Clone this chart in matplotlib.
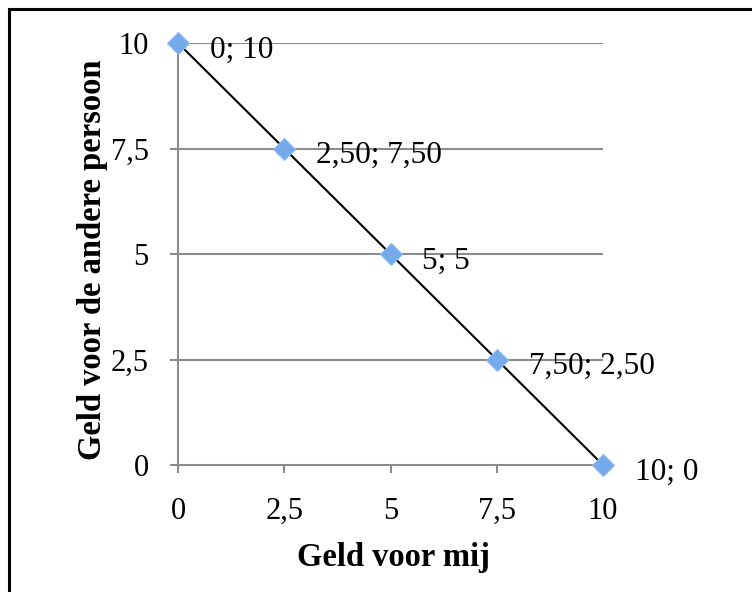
import matplotlib
matplotlib.use("Agg")
import matplotlib.pyplot as plt
from matplotlib.lines import Line2D

plt.rcParams['font.family'] = ['Liberation Serif', 'DejaVu Serif']

geld_mij = [0, 2.5, 5, 7.5, 10]
geld_ander = [10, 7.5, 5, 2.5, 0]
punt_labels = ["0; 10", "2,50; 7,50", "5; 5", "7,50; 2,50", "10; 0"]
x_ticks = [0, 2.5, 5, 7.5, 10]
x_ticklabels = ["0", "2,5", "5", "7,5", "10"]
y_ticks = [0, 2.5, 5, 7.5, 10]
y_ticklabels = ["0", "2,5", "5", "7,5", "10"]

W, H = 752, 592
fig = plt.figure(figsize=(W / 100, H / 100), dpi=100)
ax = fig.add_axes([178 / W, 1 - 465 / H, 425 / W, 422 / H])

grey = "#8c8c8c"
for y in y_ticks[1:]:
    ax.axhline(y, color=grey, lw=1.5, zorder=1)

ax.plot(geld_mij, geld_ander, color="black", lw=1.5, zorder=2)
ax.plot(geld_mij, geld_ander, linestyle="none", marker="D", markersize=11,
        markerfacecolor="#74a9ea", markeredgecolor="#8fbaf0", markeredgewidth=0.8,
        zorder=3, clip_on=False)

for x, y, t in zip(geld_mij, geld_ander, punt_labels):
    ax.annotate(t, (x, y), xytext=(23, -10.5), textcoords="offset points",
                ha="left", va="baseline", fontsize=22.5, zorder=4,
                annotation_clip=False)

ax.set_xlim(0, 10)
ax.set_ylim(0, 10)
ax.set_xticks(x_ticks)
ax.set_xticklabels(x_ticklabels)
ax.set_yticks(y_ticks)
ax.set_yticklabels(y_ticklabels)
ax.tick_params(axis="both", labelsize=22, color=grey, width=1.5, length=6, direction="out")
ax.tick_params(axis="x", pad=17)
ax.tick_params(axis="y", pad=15)

for side in ["top", "right"]:
    ax.spines[side].set_visible(False)
for side in ["left", "bottom"]:
    ax.spines[side].set_color(grey)
    ax.spines[side].set_linewidth(1.5)

ax.set_xlabel("Geld voor mij", fontsize=23.5, fontweight="bold")
ax.set_ylabel("Geld voor de andere persoon", fontsize=23.5, fontweight="bold")
ax.xaxis.set_label_coords(0.506, -0.182)
ax.yaxis.set_label_coords(-0.165, 0.486)
ax.xaxis.label.set_va("top")

# frame around the figure (left and top edges visible)
fig.add_artist(Line2D([8.5 / W, 8.5 / W], [0, 1 - 8.5 / H], transform=fig.transFigure,
                      color="black", lw=2.2))
fig.add_artist(Line2D([8.5 / W, 1], [1 - 8.5 / H, 1 - 8.5 / H], transform=fig.transFigure,
                      color="black", lw=2.2))

fig.savefig("out.png", dpi=100)
